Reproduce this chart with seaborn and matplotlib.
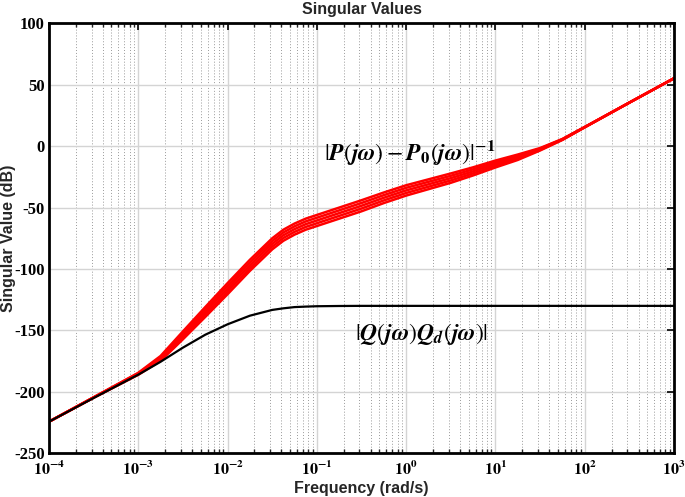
import numpy as np
import pandas as pd
import matplotlib
matplotlib.use("Agg")
import matplotlib.pyplot as plt
import seaborn as sns
from matplotlib.ticker import FixedLocator, FixedFormatter, LogLocator, NullFormatter

# ---- data ----
log_freq = [-4, -3.5, -3, -2.75, -2.5, -2.25, -2, -1.75, -1.5, -1.375, -1.25, -1.125, -1,
            -0.75, -0.5, -0.25, 0, 0.25, 0.5, 0.75, 1, 1.25, 1.5, 1.75, 2, 2.5, 3]

red_1 = [-224.3, -204.8, -186.1, -174.8, -157.2, -139.0, -120.5, -101.5, -84.0, -77.0, -72.0, -68.0, -65.0,
         -59.0, -53.0, -46.3, -40.2, -35.0, -29.8, -23.8, -17.3, -11.2, -3.5, 5.1, 15.35, 35.5, 55.3]
red_2 = [-224.3, -204.7, -185.7, -173.8, -155.6, -137.0, -118.25, -99.25, -81.75, -74.75, -69.75, -65.75, -62.75,
         -56.75, -50.75, -44.15, -38.1, -33.0, -27.9, -22.15, -15.9, -10.1, -3.0, 5.3, 15.43, 35.5, 55.3]
red_3 = [-224.3, -204.6, -185.3, -172.8, -154.0, -135.0, -116.0, -97.0, -79.5, -72.5, -67.5, -63.5, -60.5,
         -54.5, -48.5, -42.0, -36.0, -31.0, -26.0, -20.5, -14.5, -9.0, -2.5, 5.5, 15.5, 35.5, 55.3]
red_4 = [-224.3, -204.5, -184.9, -171.8, -152.4, -133.0, -113.75, -94.75, -77.25, -70.25, -65.25, -61.25, -58.25,
         -52.25, -46.25, -39.85, -33.9, -29.0, -24.1, -18.85, -13.1, -7.9, -2.0, 5.7, 15.58, 35.5, 55.3]
red_5 = [-224.3, -204.4, -184.5, -170.8, -150.8, -131.0, -111.5, -92.5, -75.0, -68.0, -63.0, -59.0, -56.0,
         -50.0, -44.0, -37.7, -31.8, -27.0, -22.2, -17.2, -11.7, -6.8, -1.5, 5.9, 15.65, 35.5, 55.3]

black_q = [-224.3, -205.0, -186.0, -175.5, -164.0, -153.5, -145.0, -138.0, -133.3, -132.0, -131.0, -130.6, -130.3,
           -130.1, -130.0, -130.0, -130.0, -130.0, -130.0, -130.0, -130.0, -130.0, -130.0, -130.0, -130.0, -130.0, -130.0]

x_tick_exps = [-4, -3, -2, -1, 0, 1, 2, 3]
y_ticks = [-250, -200, -150, -100, -50, 0, 50, 100]
y_tick_labels = ["-250", "-200", "-150", "-100", "-50", "0", "50", "100"]

label_p = r"$|\mathbfit{P}(\mathbfit{j\omega}) - \mathbfit{P}_{\mathbf{0}}(\mathbfit{j\omega})|^{-\mathbf{1}}$"
label_q = r"$|\mathbfit{Q}(\mathbfit{j\omega})\mathbfit{Q}_{\mathbfit{d}}(\mathbfit{j\omega})|$"

# ---- figure ----
sns.set_style("white")
plt.rcParams["mathtext.fontset"] = "stix"
plt.rcParams["axes.unicode_minus"] = False

fig = plt.figure(figsize=(6.85, 4.97), dpi=100)
ax = fig.add_axes([0.0715, 0.088, 0.9125, 0.865])

freq = np.power(10.0, np.array(log_freq))
for s in [red_1, red_2, red_3, red_4, red_5]:
    sns.lineplot(x=freq, y=s, color="#ff0000", lw=1.8, ax=ax, legend=False)
sns.lineplot(x=freq, y=black_q, color="black", lw=1.6, ax=ax, legend=False)

ax.set_xscale("log")
ax.set_xlim(1e-4, 1e3)
ax.set_ylim(-250, 100)

ax.xaxis.set_major_locator(FixedLocator([10.0 ** e for e in x_tick_exps]))
ax.xaxis.set_major_formatter(FixedFormatter([r"$\mathbf{10^{%d}}$" % e for e in x_tick_exps]))
ax.xaxis.set_minor_locator(LogLocator(base=10, subs=np.arange(2, 10), numticks=20))
ax.xaxis.set_minor_formatter(NullFormatter())
ax.yaxis.set_major_locator(FixedLocator(y_ticks))
ax.yaxis.set_major_formatter(FixedFormatter(y_tick_labels))

for lab in ax.get_yticklabels():
    lab.set_fontfamily("Liberation Serif")
    lab.set_fontweight("bold")
ax.tick_params(axis="both", which="major", direction="in", length=5, width=1.2,
               top=True, right=True, labelsize=12, colors="black")
ax.tick_params(axis="x", which="major", labelsize=11.5, pad=5)
ax.tick_params(axis="y", which="major", pad=3)
ax.tick_params(axis="x", which="minor", direction="in", length=3, width=1.0, top=True, bottom=True)

ax.grid(True, which="major", axis="both", color="#d4d4d4", lw=1.0, ls="-")
ax.grid(True, which="minor", axis="x", color="#9a9a9a", lw=0.7, ls=(0, (1, 2)))
ax.set_axisbelow(True)

for sp in ax.spines.values():
    sp.set_linewidth(2.0)
    sp.set_color("black")

ax.set_title("Singular Values", fontsize=11.5, fontweight="bold", family="Liberation Sans", pad=7)
ax.set_xlabel("Frequency (rad/s)", fontsize=11.5, fontweight="bold", family="Liberation Sans")
ax.set_ylabel("Singular Value (dB)", fontsize=11.5, fontweight="bold", family="Liberation Sans")
ax.xaxis.set_label_coords(0.5, -0.083)
ax.xaxis.label.set_va("center")
ax.yaxis.set_label_coords(-0.064, 0.5)
ax.yaxis.label.set_va("center")

ax.text(1.1, -5, label_p, fontsize=17, ha="center", va="center", color="black")
ax.text(1.5, -152.5, label_q, fontsize=17, ha="center", va="center", color="black")

fig.savefig("out.png", dpi=100)
